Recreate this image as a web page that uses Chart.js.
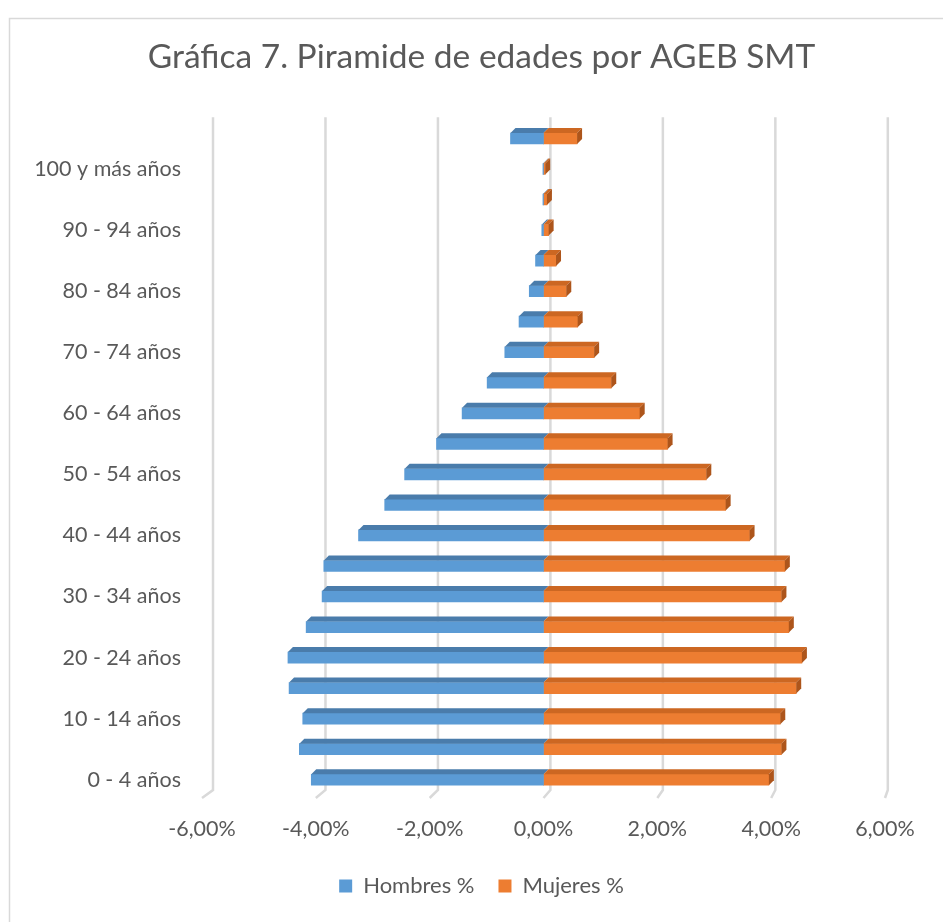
<!DOCTYPE html>
<html>
<head>
<meta charset="utf-8">
<title>Piramide de edades</title>
<script src="https://cdn.jsdelivr.net/npm/chart.js@4.4.1/dist/chart.umd.min.js"></script>
<style>
  html, body { margin: 0; padding: 0; background: #fff; }
  canvas { display: block; }
</style>
</head>
<body>
<canvas id="pyramidChart" width="943" height="922"></canvas>
<script>
// Age groups, bottom to top (the top row has no visible label in the original)
const ageGroups = [
  "0 - 4 años", "5 - 9 años", "10 - 14 años", "15 - 19 años", "20 - 24 años",
  "25 - 29 años", "30 - 34 años", "35 - 39 años", "40 - 44 años", "45 - 49 años",
  "50 - 54 años", "55 - 59 años", "60 - 64 años", "65 - 69 años", "70 - 74 años",
  "75 - 79 años", "80 - 84 años", "85 - 89 años", "90 - 94 años", "95 - 99 años",
  "100 y más años", "No especificado"
];

// Percent of population
const hombresPct = [
  4.08, 4.29, 4.23, 4.47, 4.49, 4.17, 3.89, 3.86, 3.25, 2.79, 2.44,
  1.88, 1.43, 0.99, 0.68, 0.43, 0.25, 0.14, 0.03, 0.01, 0.01, 0.58
];
const mujeresPct = [
  3.96, 4.18, 4.16, 4.44, 4.54, 4.31, 4.18, 4.24, 3.62, 3.20, 2.86,
  2.18, 1.69, 1.19, 0.89, 0.60, 0.40, 0.22, 0.09, 0.06, 0.03, 0.59
];

const xTicks = [-6, -4, -2, 0, 2, 4, 6];

const textColor = "#595959";
const gridColor = "#d9d9d9";
const blue = "#5b9bd5";
const orange = "#ed7d31";
const blueTop = "#4a7cab";
const orangeTop = "#cc6722";
const orangeSide = "#ad551b";
const fontFamily = "Lato, 'Open Sans', sans-serif";

// Outer frame of the chart object
const framePlugin = {
  id: "frame",
  beforeDraw(chart) {
    const ctx = chart.ctx;
    ctx.save();
    ctx.strokeStyle = gridColor;
    ctx.lineWidth = 1.5;
    ctx.strokeRect(9.5, 18.5, 1000, 1000);
    ctx.restore();
  }
};

// Title and legend are centred on the whole object, not on the plot
const centerShift = {
  id: "centerShift",
  afterLayout(chart) {
    const dx = 39;
    [chart.titleBlock, chart.legend].forEach((box) => {
      if (box) {
        box.left += dx;
        box.right += dx;
      }
    });
  }
};

// Back-wall gridlines and floor lines, like the 3D chart
const depthGrid = {
  id: "depthGrid",
  beforeDatasetsDraw(chart) {
    const { ctx, chartArea: a, scales } = chart;
    const x = scales.x;
    ctx.save();
    ctx.strokeStyle = gridColor;
    ctx.lineWidth = 2.5;
    xTicks.forEach((v) => {
      const fx = x.getPixelForValue(v);
      const bx = a.left + 11 + (fx - a.left) * 0.988;
      ctx.beginPath();
      ctx.moveTo(bx, a.top - 6);
      ctx.lineTo(bx, a.bottom - 5);
      ctx.lineTo(fx, a.bottom + 3);
      ctx.stroke();
    });
    ctx.restore();
  }
};

// Top and side faces of each bar
const barDepth = {
  id: "barDepth",
  afterDatasetsDraw(chart) {
    const ctx = chart.ctx;
    const d = 5;
    ctx.save();
    chart.data.datasets.forEach((ds, i) => {
      const meta = chart.getDatasetMeta(i);
      meta.data.forEach((bar) => {
        const p = bar.getProps(["x", "y", "base", "height"], true);
        const l = Math.min(p.x, p.base);
        const r = Math.max(p.x, p.base);
        const t = p.y - p.height / 2;
        const b = p.y + p.height / 2;
        ctx.fillStyle = i === 0 ? blueTop : orangeTop;
        ctx.beginPath();
        ctx.moveTo(l, t);
        ctx.lineTo(l + d, t - d);
        ctx.lineTo(r + d, t - d);
        ctx.lineTo(r, t);
        ctx.closePath();
        ctx.fill();
        if (i === 1) {
          ctx.fillStyle = orangeSide;
          ctx.beginPath();
          ctx.moveTo(r, t);
          ctx.lineTo(r + d, t - d);
          ctx.lineTo(r + d, b - d);
          ctx.lineTo(r, b);
          ctx.closePath();
          ctx.fill();
        }
      });
    });
    ctx.restore();
  }
};

const fmtPct = (v) => Number(v).toFixed(2).replace(".", ",") + "%";

new Chart(document.getElementById("pyramidChart"), {
  type: "bar",
  data: {
    labels: ageGroups,
    datasets: [
      {
        label: "Hombres %",
        data: hombresPct.map((v) => -v),
        backgroundColor: blue,
        barThickness: 11
      },
      {
        label: "Mujeres %",
        data: mujeresPct,
        backgroundColor: orange,
        barThickness: 11
      }
    ]
  },
  options: {
    indexAxis: "y",
    responsive: false,
    animation: false,
    layout: { padding: { left: 0, right: 58, top: 0, bottom: 15 } },
    plugins: {
      title: {
        display: true,
        text: "Gráfica 7. Piramide de edades por AGEB SMT",
        color: textColor,
        font: { family: fontFamily, size: 33.5, weight: "normal" },
        padding: { top: 37, bottom: 46 }
      },
      legend: {
        position: "bottom",
        labels: {
          color: textColor,
          font: { family: fontFamily, size: 22 },
          boxWidth: 13,
          boxHeight: 13,
          padding: 24
        }
      },
      tooltip: {
        callbacks: {
          label: (item) => item.dataset.label + ": " + fmtPct(Math.abs(item.raw))
        }
      }
    },
    scales: {
      x: {
        stacked: true,
        min: -6,
        max: 6,
        grid: { display: false, drawTicks: false },
        border: { display: false },
        ticks: {
          stepSize: 2,
          padding: 21,
          color: textColor,
          font: { family: fontFamily, size: 21.5 },
          callback: (v) => fmtPct(v)
        },
        afterFit: (scale) => { scale.height = 56; }
      },
      y: {
        stacked: true,
        reverse: true,
        grid: { display: false, drawTicks: false },
        border: { display: false },
        ticks: {
          autoSkip: false,
          padding: 21,
          color: textColor,
          font: { family: fontFamily, size: 21.5 },
          callback: (val, idx) => (idx % 2 === 0 ? ageGroups[idx] : "")
        },
        afterFit: (scale) => { scale.width = 202; }
      }
    }
  },
  plugins: [framePlugin, centerShift, depthGrid, barDepth]
});
</script>
</body>
</html>
